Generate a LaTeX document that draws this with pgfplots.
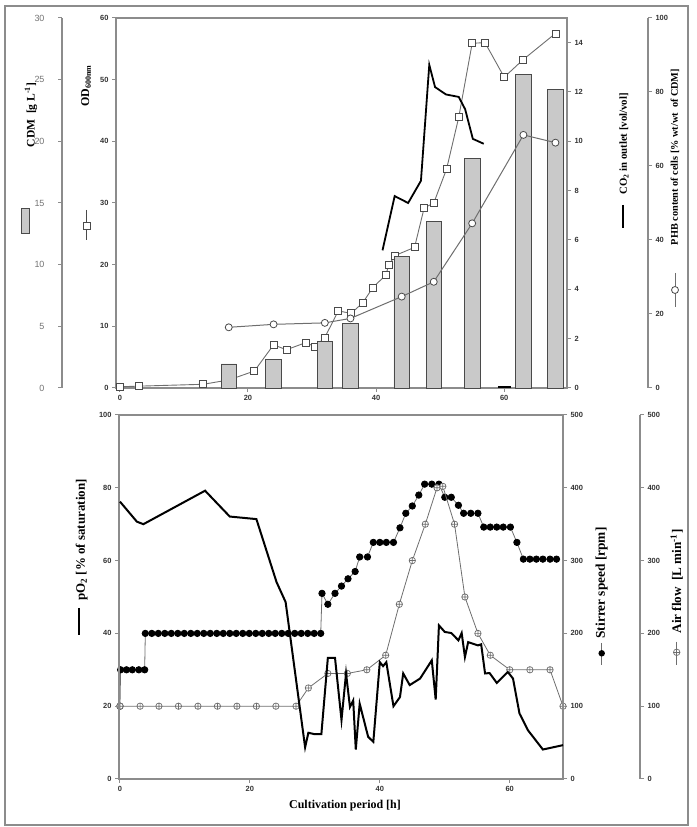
\documentclass[border=0pt]{standalone}
\usepackage{pgfplots}
\pgfplotsset{compat=1.18}
\usetikzlibrary{plotmarks}
\usepackage{fontspec}
\setmainfont{Liberation Serif}
\setsansfont{Liberation Sans}
\definecolor{axgray}{HTML}{8C8C8C}
\definecolor{bargray}{HTML}{C9C9C9}
\definecolor{edgegray}{HTML}{4A4A4A}
\definecolor{linegray}{HTML}{6E6E6E}
\definecolor{tickcol}{HTML}{333333}
\newcommand{\lab}[1]{\bfseries\fontsize{#1}{#1}\selectfont}
\pgfplotsset{
  base/.style={
    scale only axis, anchor=south west, clip=false,
    axis line style={axgray, line width=1.3bp},
    tick style={axgray, line width=1bp},
    major tick length=4bp,
    tick align=outside,
    ticklabel style={font=\sffamily\bfseries\fontsize{7.5}{8}\selectfont, text=tickcol},
    /pgf/number format/assume math mode=true,
    minor tick num=0,
  },
  sideaxis/.style={base, axis x line=none, xtick=\empty},
}
\begin{document}
\begin{tikzpicture}[x=1bp,y=1bp]
\path[use as bounding box] (0,0) rectangle (697,827);
\draw[axgray, line width=1.5bp] (5,2) rectangle (688,821);

% ---------------- TOP PANEL ----------------
\begin{axis}[base, at={(116bp,439bp)}, width=451bp, height=370bp,
  xmin=-0.6, xmax=69.8, ymin=0, ymax=60,
  xtick={0,20,40,60}, ytick={0,10,...,60}, tick pos=left]
\addplot[linegray, line width=0.9bp, mark=square*, mark size=3.5bp,
  mark options={fill=white, draw=edgegray, line width=0.8bp}] coordinates {
(0,0.2)(3,0.3)(13,0.6)(17,1.3)(21,2.75)(24,7.0)(26,6.2)(29,7.35)(30.5,6.7)(32,8.2)
(34.1,12.5)(36.1,12.1)(37.9,13.8)(39.5,16.3)(41.5,18.3)(42,20.0)(43,21.5)(46,22.8)
(47.5,29.2)(49,30.0)(51,35.5)(52.9,43.9)(55,55.9)(57,56.0)(60,50.4)(62.9,53.2)(68,57.5)};
\end{axis}

\begin{axis}[sideaxis, at={(62bp,439bp)}, width=505bp, height=370bp,
  xmin=-9.03, xmax=69.8, ymin=0, ymax=30, axis y line*=left, ytick={0,5,...,30},
  yticklabel style={font=\sffamily\fontsize{9}{10}\selectfont, text=black!55, xshift=-10bp}]
\addplot[ybar, bar width=15.5bp, fill=bargray, draw=edgegray, line width=0.8bp] coordinates {
(17,1.95)(24,2.33)(32,3.75)(36,5.25)(44,10.65)(49,13.5)(55,18.6)(63,25.4)(68,24.2)};
\end{axis}

\begin{axis}[sideaxis, at={(116bp,439bp)}, width=451bp, height=370bp,
  xmin=-0.6, xmax=69.8, ymin=0, ymax=15, axis y line*=right, ytick={0,2,...,14}]
\addplot[black, line width=1.8bp] coordinates {
(41,5.58)(42.9,7.78)(45,7.5)(47,8.4)(48.3,13.1)(49.2,12.2)(50.9,11.9)(52.9,11.8)(53.9,11.3)(55.1,10.1)(56.8,9.9)};
\addplot[black, line width=1.5bp] coordinates {(59,0.05)(61,0.05)};
\end{axis}

\begin{axis}[sideaxis, at={(116bp,439bp)}, width=532bp, height=370bp,
  xmin=-0.6, xmax=82.45, ymin=0, ymax=100, axis y line*=right, ytick={0,20,...,100}]
\addplot[linegray, line width=1bp, mark=*, mark size=3.5bp,
  mark options={fill=white, draw=edgegray, line width=0.8bp}] coordinates {
(17,16.4)(24,17.2)(32,17.6)(36,18.8)(44,24.7)(49,28.7)(55,44.5)(63,68.4)(68,66.3)};
\end{axis}

% ---------------- BOTTOM PANEL ----------------
\begin{axis}[sideaxis, at={(119bp,48bp)}, width=444bp, height=364bp,
  xmin=-0.15, xmax=68.2, ymin=0, ymax=500, axis y line*=right, ytick={0,100,...,500}]
\addplot[linegray, line width=0.8bp, mark=*, mark size=3.2bp,
  mark options={fill=black, draw=black}] coordinates {
(0,100)(0.1,150)(1,150)(1.9,150)(2.9,150)(3.8,150)(3.9,200)(4.9,200)(5.9,200)(6.9,200)(7.9,200)
(8.9,200)(9.9,200)(10.9,200)(11.9,200)(12.9,200)(13.9,200)(14.9,200)(15.9,200)(16.9,200)(17.9,200)
(18.9,200)(19.9,200)(20.9,200)(21.9,200)(22.9,200)(23.9,200)(24.9,200)(25.9,200)(26.9,200)(27.9,200)
(28.9,200)(29.9,200)(30.9,200)(31.1,255)(32,240)(33.1,255)(34.1,265)(35.1,275)(36.2,285)(36.9,305)
(38.1,305)(39,325)(40,325)(41,325)(42.1,325)(43.1,345)(44,365)(45,375)(46,390)(46.9,405)(48,405)
(49.1,405)(50,387)(51,387)(52.1,376)(52.9,365)(54,365)(55.1,365)(56,346)(57,346)(58,346)(59,346)
(60.1,346)(61.1,325)(62.1,302)(63.1,302)(64.1,302)(65.1,302)(66.2,302)(67.2,302)};
\end{axis}

\begin{axis}[sideaxis, at={(119bp,48bp)}, width=521bp, height=364bp,
  xmin=-0.15, xmax=80.05, ymin=0, ymax=500, axis y line*=right, ytick={0,100,...,500}]
\addplot[linegray, line width=0.8bp, mark=oplus*, mark size=3.2bp,
  mark options={fill=white, draw=linegray, line width=0.7bp}] coordinates {
(0,100)(3.1,100)(6,100)(9,100)(12,100)(15,100)(18,100)(21,100)(24,100)(27.1,100)(29,125)
(32,145)(35,145)(38,150)(40.9,170)(43,240)(45,300)(47,350)(48.8,400)(49.7,402)(51.5,350)
(53.1,250)(55.1,200)(57,170)(60,150)(63.1,150)(66.2,150)(68.2,100)};
\end{axis}

\begin{axis}[base, at={(119bp,48bp)}, width=444bp, height=364bp,
  xmin=-0.15, xmax=68.2, ymin=0, ymax=100,
  xtick={0,20,40,60}, ytick={0,20,...,100}, tick pos=left]
\addplot[black, line width=2bp] coordinates {
(0,76.2)(2.6,70.7)(3.6,70.0)(13.1,79.2)(16.9,72.1)(21,71.4)(24.1,54.1)(25.5,48.6)(28.5,8.7)(29,12.7)
(30,12.3)(31,12.3)(32,33.3)(33.1,33.3)(34.1,16.2)(34.8,29.0)(35.4,19.8)(35.9,21.6)(36.3,8.1)(36.9,20.7)
(38.2,11.6)(39,10.2)(40,32.1)(40.5,31.0)(41,32.1)(42.1,20.0)(43.1,22.5)(43.6,29.0)(44.6,25.8)(46.2,27.6)
(48,32.6)(48.6,21.8)(49.1,42.2)(50,40.4)(51,40.1)(52.1,38.1)(52.6,40.1)(53.1,33.5)(53.6,37.6)(55.1,36.7)
(55.6,37.0)(56.2,29.0)(56.9,29.1)(58,26.4)(59.7,29.4)(60.5,27.6)(61.5,18.0)(62.8,13.4)(65.1,8.1)(68.2,9.3)};
\end{axis}

% ---------------- axis titles with symbols ----------------
\node[rotate=90, font=\lab{11.6}] at (31,712) {CDM\ \ [g L\textsuperscript{-1}]};
\filldraw[fill=bargray, draw=edgegray, line width=0.8bp] (21.7,594) rectangle (29.3,619);

\node[rotate=90, font=\lab{12}] at (86,741) {OD\textsubscript{600nm}};
\draw[edgegray, line width=0.9bp] (86.7,617)--(86.7,587);
\node[draw=edgegray, fill=white, minimum size=7.5bp, inner sep=0pt, line width=0.8bp] at (86.7,601) {};

\node[rotate=90, font=\lab{10.8}] at (624,683) {CO\textsubscript{2} in outlet [vol/vol]};
\draw[black, line width=1.8bp] (623,622)--(623,599);

\node[rotate=90, font=\lab{10.3}] at (675,670) {PHB content of cells [\% wt/wt\ \ of CDM]};
\draw[linegray, line width=1bp] (675,554)--(675,520);
\node[circle, draw=edgegray, fill=white, minimum size=7bp, inner sep=0pt, line width=0.8bp] at (675,537) {};

\node[rotate=90, font=\lab{13}] at (81.7,287) {pO\textsubscript{2} [\% of saturation]};
\draw[black, line width=2bp] (79,219)--(79,192);

\node[rotate=90, font=\lab{13.4}] at (601.7,244) {Stirrer speed [rpm]};
\draw[linegray, line width=0.8bp] (601.7,184)--(601.7,162);
\node[circle, fill=black, minimum size=6.5bp, inner sep=0pt] at (601.7,173.7) {};

\node[rotate=90, font=\lab{13.2}] at (676.7,245.5) {Air flow\ \ [L min\textsuperscript{-1}]};
\draw[linegray, line width=0.8bp] (676.7,185.3)--(676.7,162);
\node[circle, draw=linegray, fill=white, minimum size=6.5bp, inner sep=0pt, line width=0.7bp] (af) at (676.7,174.7) {};
\draw[linegray, line width=0.7bp] (af.north)--(af.south) (af.east)--(af.west);

\node[font=\lab{12}] at (345,21) {Cultivation period [h]};
\end{tikzpicture}
\end{document}
